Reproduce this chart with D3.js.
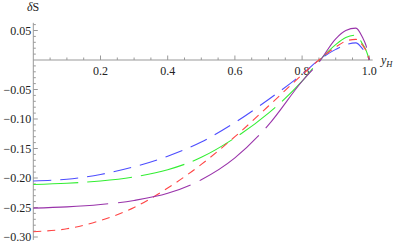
<!DOCTYPE html>
<html>
<head>
<meta charset="UTF-8">
<style>
	body { margin: 0; background: #fff; }
	svg { display: block; }
	.tick-label { font-family: "Liberation Serif", "DejaVu Serif", serif; font-size: 12px; fill: #222; }
	.axis-line { stroke: #999; stroke-width: 1; }
</style>
<script src="https://cdn.jsdelivr.net/npm/d3@7/dist/d3.min.js"></script>
</head>
<body>
<div id="chart"></div>
<script>
	// sample points along y_H
	var yH = [0, 0.1, 0.2, 0.3, 0.4, 0.5, 0.6, 0.7, 0.8, 0.85, 0.9, 0.93, 0.96, 0.98, 0.99, 1.0];

	var blueVals   = [-0.205, -0.202, -0.194, -0.181, -0.163, -0.139, -0.106, -0.067, -0.024, 0.000, 0.018, 0.026, 0.029, 0.019, 0.012, 0];
	var greenVals  = [-0.211, -0.209, -0.205, -0.198, -0.186, -0.165, -0.132, -0.090, -0.036, -0.002, 0.026, 0.038, 0.042, 0.027, 0.017, 0];
	var purpleVals = [-0.251, -0.249, -0.245, -0.238, -0.226, -0.203, -0.166, -0.110, -0.036, -0.004, 0.036, 0.050, 0.054, 0.038, 0.025, 0];
	var redVals    = [-0.291, -0.286, -0.272, -0.250, -0.217, -0.177, -0.130, -0.078, -0.025, 0.000, 0.022, 0.032, 0.035, 0.025, 0.016, 0];

	var xTickLabels = [0.2, 0.4, 0.6, 0.8, 1.0];
	var yTickLabels = [0.05, -0.05, -0.10, -0.15, -0.20, -0.25, -0.30];

	var W = 401, H = 245;

	var x = d3.scaleLinear().domain([0, 1]).range([33.3, 369.3]);
	var y = d3.scaleLinear().domain([0, -0.30]).range([60, 237]);

	var svg = d3.select("#chart").append("svg")
		.attr("width", W)
		.attr("height", H);

	// axes lines
	svg.append("line").attr("class", "axis-line")
		.attr("x1", x(0)).attr("x2", x(1.01))
		.attr("y1", y(0)).attr("y2", y(0));
	svg.append("line").attr("class", "axis-line")
		.attr("x1", x(0)).attr("x2", x(0))
		.attr("y1", y(0.063)).attr("y2", y(-0.305));

	// x ticks (pointing up)
	var xMinor = d3.range(1, 21).map(function(i){ return i * 0.05; });
	svg.selectAll(".xtick").data(xMinor).enter().append("line")
		.attr("class", "axis-line")
		.attr("x1", function(d){ return x(d); })
		.attr("x2", function(d){ return x(d); })
		.attr("y1", y(0))
		.attr("y2", function(d){ return y(0) - (Math.abs(d*5 - Math.round(d*5)) < 1e-6 ? 4.5 : 2.5); });

	svg.selectAll(".xlab").data(xTickLabels).enter().append("text")
		.attr("class", "tick-label")
		.attr("x", function(d){ return x(d); })
		.attr("y", y(0) + 15)
		.attr("text-anchor", "middle")
		.text(function(d){ return d.toFixed(1); });

	// y ticks (pointing right)
	var yMinor = d3.range(-30, 7).map(function(i){ return i * 0.01; }).filter(function(d){ return Math.abs(d) > 1e-9; });
	svg.selectAll(".ytick").data(yMinor).enter().append("line")
		.attr("class", "axis-line")
		.attr("y1", function(d){ return y(d); })
		.attr("y2", function(d){ return y(d); })
		.attr("x1", x(0))
		.attr("x2", function(d){ return x(0) + (Math.abs(d*20 - Math.round(d*20)) < 1e-6 ? 4.5 : 2.5); });

	svg.selectAll(".ylab").data(yTickLabels).enter().append("text")
		.attr("class", "tick-label")
		.attr("x", x(0) - 2)
		.attr("y", function(d){ return y(d) + 4.3; })
		.attr("text-anchor", "end")
		.text(function(d){ return (d < 0 ? "\u2212" : "") + Math.abs(d).toFixed(2); });

	// axis titles
	svg.append("text").attr("class", "tick-label")
		.attr("x", 27).attr("y", 11)
		.html('<tspan font-style="italic">δ</tspan>S');
	svg.append("text").attr("class", "tick-label")
		.attr("x", 381).attr("y", 64)
		.html('<tspan font-style="italic">y</tspan><tspan font-style="italic" font-size="8.5" dy="2.5">H</tspan>');

	// curves
	var series = [
		{ vals: blueVals,   color: "#4d4dff", dash: "18,9" },
		{ vals: greenVals,  color: "#33ee33", dash: "45,9" },
		{ vals: redVals,    color: "#ff4444", dash: "8,6" },
		{ vals: purpleVals, color: "#9933aa", dash: "75,10" }
	];

	var line = d3.line()
		.x(function(d){ return x(d[0]); })
		.y(function(d){ return y(d[1]); })
		.curve(d3.curveMonotoneX);

	series.forEach(function(s){
		svg.append("path")
			.datum(yH.map(function(v, i){ return [v, s.vals[i]]; }))
			.attr("d", line)
			.attr("fill", "none")
			.attr("stroke", s.color)
			.attr("stroke-width", 1.1)
			.attr("stroke-dasharray", s.dash);
	});
</script>
</body>
</html>
